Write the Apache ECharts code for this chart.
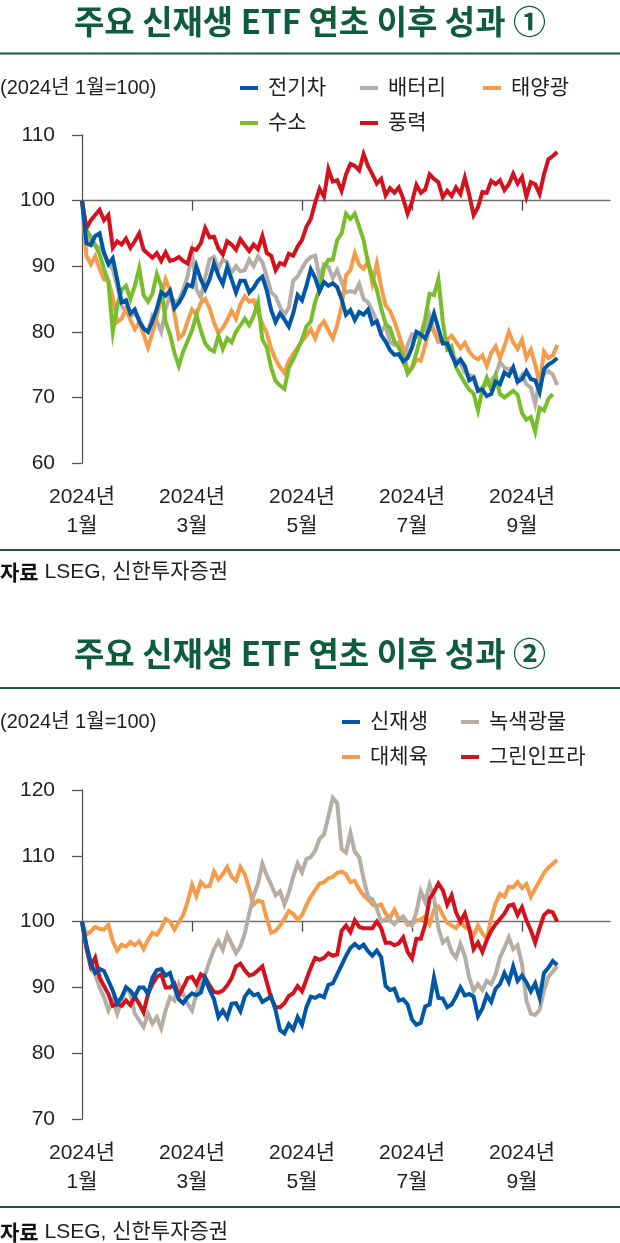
<!DOCTYPE html>
<html>
<head>
<meta charset="utf-8">
<script src="https://cdn.jsdelivr.net/npm/echarts@6/dist/echarts.min.js"></script>
<style>
  html, body { margin: 0; padding: 0; background: #ffffff; }
  #chart { width: 620px; height: 1243px; }
</style>
</head>
<body>
<div id="chart"></div>
<script>
// ---------- data ----------
// each point = 2 trading days, first point = start of 2024 (=100)
const periodCount = 121;                 // x-axis length (data stops before the end of the axis)
const tickStep = 25;                     // one tick / label every 25 points (50 trading days)
const tickLabels = ['2024년\n1월', '2024년\n3월', '2024년\n5월', '2024년\n7월', '2024년\n9월'];

// chart ①
const names1 = ['전기차', '배터리', '태양광', '수소', '풍력'];
const ev = [100,93.5,93.2,94.6,95.0,92.0,90.3,91.2,88.0,84.5,
  84.8,82.8,83.4,81.6,80.5,80.0,81.6,83.5,86.0,85.5,
  86.3,83.6,84.4,85.6,87.2,86.9,90.0,88.0,86.5,88.0,
  90.4,88.6,87.3,89.9,88.0,86.0,87.8,87.8,86.0,86.7,
  87.8,88.4,86.3,83.3,81.5,82.8,81.9,80.8,82.8,85.6,
  84.8,87.0,89.5,88.2,86.2,87.6,87.0,87.4,86.8,85.0,
  82.6,83.3,81.8,83.0,82.6,83.4,81.2,81.6,79.5,78.5,
  77.2,76.5,76.6,75.5,76.0,77.6,80.0,79.6,79.0,80.6,
  82.8,80.5,78.2,78.2,76.5,75.0,75.8,74.8,72.6,73.0,
  71.0,71.2,70.2,70.5,72.4,72.0,73.8,73.3,74.6,72.4,
  72.8,74.0,72.8,72.6,70.8,74.3,75.0,75.4,76.0];
const battery = [100,95,93.5,93.2,92.8,92.2,90.5,89.5,87,84,
  83,82.3,82.8,82,80.5,80,82.4,81.6,80.0,83.5,
  85.5,84.6,84.8,86.4,88.5,92.0,86.5,85.2,88.3,91.0,
  91.4,89.6,91.0,90.6,89.0,90.0,89.2,89.4,91.0,90.0,
  91.5,90.6,88.4,86.0,85.4,83.8,82.6,83.7,87.8,88.4,
  89.7,90.8,91.4,91.6,88.2,90.3,89.9,88.2,89.4,87.6,
  86.0,86.2,86.0,87.3,85.0,84.5,83.2,81.6,80.0,81.0,
  78.4,78.0,78.4,75.6,78.0,79.6,79.2,79.6,80.5,82.5,
  80.0,78.5,78.6,78.8,76.5,75.8,75.2,73.8,73.4,73.2,
  71.0,71.6,72.0,72.6,73.4,75.4,74.5,74.3,74.4,72.3,
  73.4,72.0,71.5,69.0,72.8,73.6,74.0,73.5,71.9];
const solar = [100,91.6,90.3,91.5,89.6,88.0,87.8,85.2,81.5,82.0,
  83.5,81.8,80.4,81.4,79.6,77.6,79.8,82.4,85.2,88.0,
  86.4,82.8,79.0,79.6,81.6,83.4,82.6,84.4,85.0,83.6,
  81.4,79.8,80.6,81.8,83.2,82.0,84.2,85.4,84.6,84.8,
  83.0,81.2,79.8,77.4,75.8,74.6,73.7,75.6,76.6,77.6,
  78.6,79.4,80.4,79.0,80.8,81.6,80.2,79.0,81.0,83.9,
  88.6,89.4,92.0,90.2,89.6,90.7,87.4,90.4,86.8,84.0,
  83.2,81.6,79.6,77.5,74.0,74.5,75.8,75.6,78.0,80.6,
  80.2,78.5,79.0,78.8,79.4,78.5,77.5,78.3,77.0,76.2,
  75.8,76.4,74.8,76.8,77.8,76.0,77.8,80.0,78.4,77.4,
  78.8,76.0,77.3,75.0,72.0,77.0,76.0,76.4,78.0];
const hydrogen = [100,95.5,94.5,93.2,91.8,89.6,87.6,80.0,84.0,86.4,
  87.0,85.0,87.0,89.7,85.6,84.6,85.8,88.8,87.0,81.5,
  79.6,76.8,74.8,77.0,78.6,80.2,82.6,80.2,78.2,77.4,
  77.0,79.4,77.4,79.0,78.4,80.0,81.0,82.0,81.0,82.4,
  84.5,78.8,77.6,74.5,72.5,71.8,71.3,74.5,75.8,77.3,
  78.8,80.8,81.6,84.6,86.5,89.8,91.0,91.0,94.0,95.0,
  98.0,97.2,98.0,96.0,94.0,90.5,88.4,86.4,83.6,81.2,
  80.6,78.5,77.6,76.2,73.6,74.5,76.8,79.3,82.0,85.8,
  85.6,88.0,81.6,77.3,77.8,74.6,73.4,72.2,71.2,70.6,
  68.0,71.2,73.0,71.2,73.2,70.5,70.0,70.5,71.0,70.4,
  67.6,66.6,67.0,64.8,68.4,68.0,69.8,70.5];
const wind = [100,95.8,97.0,97.8,98.6,97.0,97.8,92.8,93.8,93.3,
  94.2,92.8,93.8,95.0,92.5,91.9,91.3,92.0,90.8,92.1,
  90.8,91.0,91.4,90.8,90.4,92.7,92.5,93.5,95.8,94.4,
  94.5,92.7,91.8,93.8,93.3,92.5,94.1,93.2,92.3,93.3,
  92.6,94.6,92.0,91.6,89.4,90.5,90.2,91.9,91.6,93.0,
  94.0,96.0,97.2,99.7,101.8,100.6,104.8,102.9,103.1,101.5,
  104.0,105.6,105.3,104.6,107.1,105.3,104.0,102.6,103.3,100.8,
  101.9,101.2,102.0,100.3,98.0,99.8,102.4,101.2,101.7,104.0,
  103.3,102.8,100.5,101.5,100.7,102.0,101.0,103.5,100.9,97.8,
  99.0,101.3,101.2,103.0,102.5,103.1,101.6,102.5,104.1,102.6,
  103.6,100.6,102.8,102.5,101.0,104.0,106.3,106.8,107.4];

// chart ②
const names2 = ['신재생', '녹색광물', '대체육', '그린인프라'];
const renewable = [100,96.5,93.7,92.2,92.8,92.5,91.0,89.5,87.6,88.5,
  90.0,89.5,88.6,90.0,90.0,89.0,91.5,92.6,92.8,91.8,
  92.2,90.0,88.2,87.6,88.5,89.1,88.8,89.2,91.4,89.6,
  88.2,85.5,86.5,85.4,87.5,87.6,86.4,88.6,89.5,88.8,
  89.0,87.8,88.2,88.6,86.5,83.5,83.0,84.4,83.6,85.5,
  84.3,87.0,88.6,88.4,88.8,88.5,90.4,90.6,92.0,93.4,
  94.8,96.0,96.6,96.0,96.5,95.5,94.8,95.6,94.6,90.2,
  89.6,89.8,88.0,88.2,87.4,85.1,84.3,84.6,87.1,87.4,
  91.5,88.4,88.3,87.0,87.4,88.6,90.0,88.8,89.0,88.6,
  85.6,86.8,88.8,87.8,89.8,90.5,92.2,90.8,93.2,91.0,
  91.8,90.8,89.4,90.6,88.4,92.2,93.0,94.0,93.4];
const greenMineral = [100,96,93,92,90,88.5,86.5,88,86,88,
  90,89,86,85,84,86,84.5,85.5,83.8,86.5,
  88.5,88,90.5,89,87.5,86.5,89,91,92,94,
  95.8,97,95.7,98,96.6,95.2,96.2,98.2,101.2,104,
  105.8,108.8,107,105.6,104,104.6,102.6,104.4,106.8,108.8,
  107.5,109.5,109.8,110.8,112.6,113.2,116.0,118.8,118.0,111.0,
  110.5,113.5,110.6,109.8,106.5,103.8,103.4,102.0,100.0,100.4,
  100.2,99.6,100.4,100.8,99.8,99.4,101.5,104.6,103.0,105.6,
  103.6,99.0,96.8,97.4,95.4,94.5,96.6,94.8,91.5,89.5,
  90.5,89.6,91.0,90.5,92.0,94.6,96.0,97.6,95.8,96.4,
  93.5,88.0,86.0,85.8,86.6,89.5,91.6,92.4,93.2];
const altMeat = [100,98.0,98.5,99.2,98.9,98.8,99.5,97.0,95.6,96.5,
  96.2,96.9,96.4,97.0,95.8,97.2,98.3,98.0,99.0,100.4,
  100.0,98.8,99.9,101.0,103.0,105.6,103.9,106.0,105.3,105.4,
  107.6,106.4,107.2,108.3,106.8,106.2,108.3,107.2,105.0,102.6,
  103.2,103.0,100.4,98.3,98.6,99.4,100.4,101.6,101.2,100.3,
  101.0,102.5,103.8,104.8,105.8,106.0,106.6,106.8,107.4,107.6,
  107.2,106.0,106.2,104.9,104.0,103.4,102.6,102.4,102.6,101.2,
  100.6,101.8,100.4,100.6,99.5,99.6,100.2,100.3,100.8,99.6,
  101.8,102.3,101.0,99.8,99.4,99.0,100.0,99.2,98.8,97.9,
  99.4,98.2,97.4,100.5,102.8,104.2,103.8,105.3,105.2,106.0,
  105.1,105.7,103.8,105.0,106.2,107.4,108.2,108.8,109.4];
const greenInfra = [100,96,93.2,94.5,91.5,90.2,89,87.2,87.5,87.2,
  88,87.3,88.6,87.5,86.2,89,90.5,91.6,92,90,
  90,90.6,88.7,90,91.4,91.6,90.5,92,91.5,90.3,
  89.3,89.2,89.5,90.3,91.4,93.2,93.6,92.6,91.8,92,
  92.6,93.2,90.8,88.3,87,87,87.6,88.7,89.1,90.2,
  89.4,91.2,93,94.5,94.2,94.5,95.2,94.8,95,98.6,
  99.4,98.4,100.2,99.2,99,99,99,100,99,96.8,
  96.8,96.4,96.7,97.6,95.4,94.4,97.4,97.4,99.6,103.5,
  104.5,105.8,104.8,102.6,104,101.4,100,101.2,99,95.8,
  96.8,95.4,97.2,98.6,99.6,100.4,101.2,102.4,102.6,101,
  102.2,100.2,98.7,96.8,99,101,101.6,101.4,100];

// ---------- styling ----------
const FONT = "'Liberation Sans', 'Noto Sans CJK KR', sans-serif";
const KFONT = "'Noto Sans CJK KR', sans-serif";
const TEXT = '#231f20';
const GREEN = '#0d5c3d';
const COLORS = { blue: '#0057a7', gray: '#b4aea6', orange: '#f59c4b', green: '#78be2b', red: '#d3121d' };

const periods = Array.from({ length: periodCount }, (_, i) => i);
const isTick = i => i % tickStep === 0 && i / tickStep < tickLabels.length;

function panel(idx, p) {
  const base = p.height * (100 - p.min) / (p.max - p.min);
  const grid = { left: 82, top: p.top, width: 528, height: p.height, outerBoundsMode: 'none' };
  const xLabelAxis = {
    gridIndex: idx, type: 'category', data: periods, boundaryGap: false, position: 'bottom',
    axisLine: { show: false }, axisTick: { show: false }, splitLine: { show: false },
    axisLabel: {
      interval: (i) => isTick(i),
      formatter: (v, i) => tickLabels[i / tickStep] || '',
      fontSize: 21, lineHeight: 29, color: TEXT, fontFamily: FONT, margin: 20
    }
  };
  const xBaseAxis = {
    gridIndex: idx, type: 'category', data: periods, boundaryGap: false, position: 'bottom',
    offset: -base,
    axisLine: { show: true, lineStyle: { color: '#707070', width: 1.3 } },
    axisTick: { show: true, interval: (i) => isTick(i), length: 10, lineStyle: { color: '#4a4a4a', width: 1.3 } },
    axisLabel: { show: false }, splitLine: { show: false }
  };
  const yAxis = {
    gridIndex: idx, type: 'value', min: p.min, max: p.max, interval: 10,
    axisLine: { show: true, lineStyle: { color: '#555555', width: 1.3 } },
    axisTick: { show: true, length: 10, lineStyle: { color: '#555555', width: 1.3 } },
    splitLine: { show: false },
    axisLabel: { fontSize: 21, color: TEXT, fontFamily: FONT, margin: 27 }
  };
  const series = p.series.map(s => ({
    type: 'line', name: s.name, xAxisIndex: idx * 2, yAxisIndex: idx, data: s.data,
    showSymbol: false, symbol: 'none', z: s.z,
    lineStyle: { width: 4, color: s.color, join: 'miter' }, itemStyle: { color: s.color },
    emphasis: { disabled: true }
  }));
  const legends = p.legend.map(l => ({
    data: [l.name], left: l.x, top: l.y - 12, padding: 0, icon: 'rect', itemWidth: 18, itemHeight: 4,
    selectedMode: false,
    textStyle: { fontSize: 21, lineHeight: 24, color: TEXT, fontFamily: FONT, padding: [0, 0, 0, 5] }
  }));
  const titles = [
    { text: p.title, left: 'center', top: p.titleY - 20, padding: 0,
      textStyle: { fontSize: 33, lineHeight: 40, fontWeight: 'bold', color: GREEN, fontFamily: KFONT } },
    { text: '(2024년 1월=100)', left: 0, top: p.unitY - 12, padding: 0,
      textStyle: { fontSize: 20, lineHeight: 24, fontWeight: 'normal', color: TEXT, fontFamily: FONT } },
    { text: '{b|자료} LSEG, 신한투자증권', left: 0, top: p.sourceY - 12, padding: 0,
      textStyle: { fontSize: 21, lineHeight: 24, fontWeight: 'normal', color: TEXT, fontFamily: FONT,
        rich: { b: { fontSize: 21, lineHeight: 24, fontWeight: 'bold', color: '#111111', fontFamily: KFONT } } } }
  ];
  const rules = [p.ruleTop, p.ruleBottom].map(y => ({
    type: 'rect', shape: { x: 0, y: y - 1, width: 620, height: 2 }, style: { fill: '#1b5c40' }, silent: true
  }));
  return { grid, xAxes: [xLabelAxis, xBaseAxis], yAxis, series, legends, titles, rules };
}

const p1 = panel(0, {
  top: 135, height: 328, min: 60, max: 110,
  title: '주요 신재생 ETF 연초 이후 성과 ①', titleY: 21, unitY: 88, sourceY: 572,
  ruleTop: 53.5, ruleBottom: 550,
  series: [
    { name: names1[1], data: battery, color: COLORS.gray, z: 2 },
    { name: names1[2], data: solar, color: COLORS.orange, z: 3 },
    { name: names1[3], data: hydrogen, color: COLORS.green, z: 4 },
    { name: names1[4], data: wind, color: COLORS.red, z: 5 },
    { name: names1[0], data: ev, color: COLORS.blue, z: 6 }
  ],
  legend: [
    { name: names1[0], x: 240, y: 88 }, { name: names1[1], x: 360, y: 88 }, { name: names1[2], x: 483, y: 88 },
    { name: names1[3], x: 240, y: 123 }, { name: names1[4], x: 360, y: 123 }
  ]
});
const p2 = panel(1, {
  top: 790, height: 329, min: 70, max: 120,
  title: '주요 신재생 ETF 연초 이후 성과 ②', titleY: 653, unitY: 722, sourceY: 1232,
  ruleTop: 688, ruleBottom: 1207,
  series: [
    { name: names2[2], data: altMeat, color: COLORS.orange, z: 2 },
    { name: names2[1], data: greenMineral, color: COLORS.gray, z: 3 },
    { name: names2[3], data: greenInfra, color: COLORS.red, z: 4 },
    { name: names2[0], data: renewable, color: COLORS.blue, z: 5 }
  ],
  legend: [
    { name: names2[0], x: 342, y: 722 }, { name: names2[1], x: 461, y: 722 },
    { name: names2[2], x: 342, y: 757 }, { name: names2[3], x: 461, y: 757 }
  ]
});

const chart = echarts.init(document.getElementById('chart'), null, { renderer: 'canvas' });
chart.setOption({
  animation: false,
  backgroundColor: '#ffffff',
  title: [...p1.titles, ...p2.titles],
  legend: [...p1.legends, ...p2.legends],
  grid: [p1.grid, p2.grid],
  xAxis: [...p1.xAxes, ...p2.xAxes],
  yAxis: [p1.yAxis, p2.yAxis],
  series: [...p1.series, ...p2.series],
  graphic: [...p1.rules, ...p2.rules],
  tooltip: { show: false }
});
</script>
</body>
</html>
